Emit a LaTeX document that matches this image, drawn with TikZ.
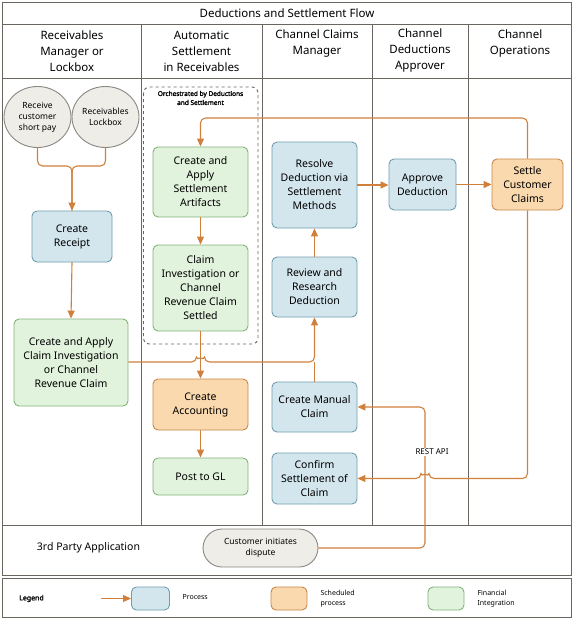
\documentclass[tikz,border=0pt]{standalone}
\usepackage{fontspec}
\setmainfont{Noto Sans}[AutoFakeBold=1.8]
\usetikzlibrary{arrows.meta,shapes.geometric}
\definecolor{lanec}{HTML}{6B6560}
\definecolor{flowc}{HTML}{D0803A}
\definecolor{bluef}{HTML}{D3E6EE}
\definecolor{blued}{HTML}{6E9DAE}
\definecolor{greenf}{HTML}{E2F3DD}
\definecolor{greend}{HTML}{84B07A}
\definecolor{orangef}{HTML}{F9D9AD}
\definecolor{oranged}{HTML}{C8864A}
\definecolor{greyf}{HTML}{EFEDE8}
\definecolor{greyd}{HTML}{8B8782}
\tikzset{
  lane/.style={draw=lanec, line width=0.9pt},
  boxbase/.style={rounded corners=5pt, line width=0.9pt, align=center, inner sep=1pt, font=\fontsize{10.5}{14}\selectfont},
  procbox/.style={boxbase, draw=blued, fill=bluef},
  schedbox/.style={boxbase, draw=oranged, fill=orangef},
  finbox/.style={boxbase, draw=greend, fill=greenf},
  startc/.style={ellipse, draw=greyd, fill=greyf, line width=0.9pt, align=center, inner sep=0pt, font=\fontsize{8.5}{11}\selectfont, minimum width=67pt, minimum height=61pt},
  flow/.style={draw=flowc, line width=1.1pt, rounded corners=5pt, -{Triangle[length=8pt,width=7pt]}},
  flowplain/.style={draw=flowc, line width=1.1pt, rounded corners=5pt},
  hdr/.style={align=center, font=\fontsize{11.5}{16}\selectfont},
  legtxt/.style={align=left, anchor=west, font=\fontsize{7}{9.5}\selectfont},
}
\begin{document}
\begin{tikzpicture}[x=1pt,y=-1pt]
\useasboundingbox (0,0) rectangle (573,621);
% lanes
\draw[lane] (2.5,2.5) rectangle (571.5,575);
\draw[lane] (2.5,24) -- (571.5,24);
\draw[lane] (2.5,78) -- (571.5,78);
\draw[lane] (2.5,525) -- (571.5,525);
\foreach \x in {141,262,372,468} \draw[lane] (\x,24) -- (\x,525);
\draw[lane] (2.5,578.5) rectangle (571.5,617);
% headers
\node[hdr] (title) at (287,13) {Deductions and Settlement Flow};
\node[hdr] (h1) at (72,51) {Receivables\\Manager or\\Lockbox};
\node[hdr] (h2) at (201.5,51) {Automatic\\Settlement\\in Receivables};
\node[hdr] (h3) at (317,44) {Channel Claims\\Manager};
\node[hdr] (h4) at (420,51) {Channel\\Deductions\\Approver};
\node[hdr] (h5) at (520,44) {Channel\\Operations};
\node[hdr, font=\fontsize{10.5}{13}\selectfont] (h6) at (88.5,548) {3rd Party Application};
% orchestrated box
\draw[lanec, line width=0.9pt, dashed, rounded corners=6pt] (143.5,87) rectangle (258,344);
\node[align=center, font=\bfseries\fontsize{6.5}{9}\selectfont] (orch) at (200.5,98) {Orchestrated by Deductions\\and Settlement};
% nodes
\node[startc] (c1) at (37.5,117) {Receive\\customer\\short pay};
\node[startc] (c2) at (105.5,117) {Receivables\\Lockbox};
\node[procbox, minimum width=80pt, minimum height=51pt] (receipt) at (72,236.5) {Create\\Receipt};
\node[finbox, minimum width=114pt, minimum height=87pt] (cai) at (71,362.5) {Create and Apply\\Claim Investigation\\or Channel\\Revenue Claim};
\node[finbox, minimum width=95pt, minimum height=70pt] (csa) at (200.5,182) {Create and\\Apply\\Settlement\\Artifacts};
\node[finbox, minimum width=95pt, minimum height=86pt] (cis) at (200.5,288) {Claim\\Investigation or\\Channel\\Revenue Claim\\Settled};
\node[schedbox, minimum width=95pt, minimum height=51pt] (acc) at (200.5,404.5) {Create\\Accounting};
\node[finbox, minimum width=95pt, minimum height=37pt] (gl) at (200.5,476.5) {Post to GL};
\node[procbox, minimum width=85pt, minimum height=86pt] (resolve) at (314.5,185) {Resolve\\Deduction via\\Settlement\\Methods};
\node[procbox, minimum width=85pt, minimum height=60pt] (review) at (314.5,287) {Review and\\Research\\Deduction};
\node[procbox, minimum width=85pt, minimum height=50pt] (manual) at (314.5,407) {Create Manual\\Claim};
\node[procbox, minimum width=85pt, minimum height=51pt] (confirm) at (314.5,478.5) {Confirm\\Settlement of\\Claim};
\node[procbox, minimum width=67pt, minimum height=51pt] (approve) at (422.5,184.5) {Approve\\Deduction};
\node[schedbox, minimum width=71pt, minimum height=51pt] (settle) at (527.5,184.5) {Settle\\Customer\\Claims};
\node[draw=greyd, fill=greyf, line width=0.9pt, rounded corners=19pt, minimum width=115pt, minimum height=38pt, align=center, font=\fontsize{8.5}{11}\selectfont] (dispute) at (260.5,548) {Customer initiates\\dispute};
% connectors
\coordinate (m1) at (72,166);
\draw[flowplain] (c1.south) |- (m1) -- (receipt.north);
\draw[flow] (c2.south) |- (m1) -- (receipt.north);
\draw[flow] (receipt.south) -- (cai.north);
\draw[flow] (csa.south) -- (cis.north);
\draw[flow] (cis.south) -- (acc.north);
\draw[flow] (acc.south) -- (gl.north);
\coordinate (hopA) at (196.5,362);
\draw[flow] (cai.east |- hopA) -- (hopA) arc[start angle=180,end angle=360,radius=4] -| (review.south);
\draw[flowplain] (manual.north) -- (manual.north |- hopA);
\draw[flow] (review.north) -- (resolve.south);
\draw[flow] (resolve.east) -- (approve.west |- resolve.east);
\draw[flow] (approve.east) -- (settle.west);
\coordinate (topc) at (527.5,118);
\draw[flow] (settle.north) -- (topc) -| (csa.north);
\coordinate (hopB) at (429,478.5);
\draw[flow] (settle.south) |- (hopB) arc[start angle=0,end angle=-180,radius=4] -- (confirm.east);
\coordinate (restc) at (425,548);
\draw[flow] (dispute.east) -- (restc) |- (manual.east);
\node[fill=white, inner sep=1pt, font=\fontsize{8}{10}\selectfont] (rest) at (432,452) {REST API};
% legend
\node[font=\bfseries\fontsize{7}{9}\selectfont] (leg) at (31.5,598.5) {Legend};
\node[procbox, minimum width=38pt, minimum height=23pt] (lp) at (150.5,598.5) {};
\coordinate (la) at (101,598.5);
\draw[flow] (la) -- (lp.west);
\node[legtxt] (lpt) at (179,597) {Process};
\node[schedbox, minimum width=36pt, minimum height=23pt] (ls) at (289,598.5) {};
\node[legtxt] (lst) at (317,598.5) {Scheduled\\process};
\node[finbox, minimum width=36pt, minimum height=23pt] (lf) at (446,598.5) {};
\node[legtxt] (lft) at (474,598.5) {Financial\\Integration};
\end{tikzpicture}
\end{document}
